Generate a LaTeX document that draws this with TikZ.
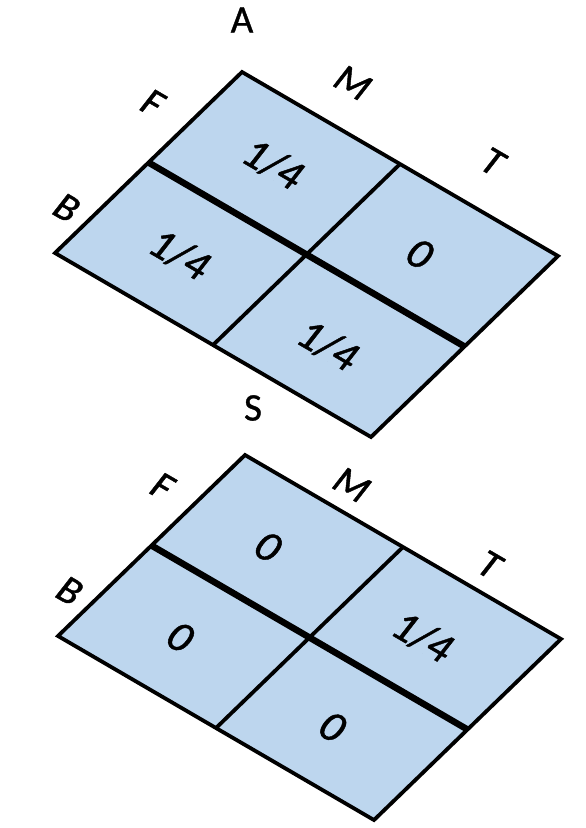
\documentclass[tikz,border=0pt]{standalone}
\usepackage{fontspec}
\setmainfont{Carlito}
\newfontfamily\labfont{Carlito}[FakeBold=1.0]
\definecolor{cellblue}{RGB}{189,214,238}
\tikzset{
  edge/.style={line width=3.8pt, line join=miter, black},
  thickline/.style={line width=6.5pt, black},
  slanted/.style={cm={0.8641,-0.5032,0.6157,0.7880,(0,0)}},
  lab/.style={font=\labfont\fontsize{40}{46}\selectfont, inner sep=0pt, slanted},
  toplab/.style={font=\labfont\fontsize{39}{45}\selectfont, inner sep=0pt},
  val/.style={font=\labfont\fontsize{44}{50}\selectfont, inner sep=0pt, slanted},
  plane/.style={cm={0.8641,-0.5032,0.7187,0.6956,#1}}
}
\begin{document}
\begin{tikzpicture}[x=1pt,y=1pt]
\useasboundingbox (0,0) rectangle (586,-828);
% upper grid
\begin{scope}[plane={(55,-253)}]
  \fill[cellblue] (0,0) rectangle (365.7,260.2);
  \draw[edge] (182.85,0) -- (182.85,260.2);
  \draw[thickline] (0,130.1) -- (365.7,130.1);
  \draw[edge] (0,0) rectangle (365.7,260.2);
  \coordinate (pm1) at (88.4,308.4);
  \coordinate (pt1) at (248.5,310.6);
  \coordinate (pf1) at (-41.1,185.8);
  \coordinate (pb1) at (-24.9,46.7);
  \coordinate (c11) at (92,194);
  \coordinate (c12) at (265,190);
  \coordinate (c21) at (92,64);
  \coordinate (c22) at (267,60);
\end{scope}
\node[toplab] (A) at (242,-20) {A};
\node[lab] (m1) at (pm1) {M};
\node[lab] (t1) at (pt1) {T};
\node[lab] (f1) at (pf1) {F};
\node[lab] (b1) at (pb1) {B};
\node[val] (v11) at (c11) {1/4};
\node[val] (v12) at (c12) {0};
\node[val] (v21) at (c21) {1/4};
\node[val] (v22) at (c22) {1/4};
% lower grid
\begin{scope}[plane={(58,-636)}]
  \fill[cellblue] (0,0) rectangle (365.7,260.2);
  \draw[edge] (182.85,0) -- (182.85,260.2);
  \draw[thickline] (0,130.1) -- (365.7,130.1);
  \draw[edge] (0,0) rectangle (365.7,260.2);
  \coordinate (pm2) at (99.7,289.2);
  \coordinate (pt2) at (259.1,289.5);
  \coordinate (pf2) at (-36,189);
  \coordinate (pb2) at (-24.9,46.7);
  \coordinate (d11) at (86,190);
  \coordinate (d12) at (265,190);
  \coordinate (d21) at (90,63);
  \coordinate (d22) at (267,62);
\end{scope}
\node[toplab] (S) at (253,-408) {S};
\node[lab] (m2) at (pm2) {M};
\node[lab] (t2) at (pt2) {T};
\node[lab] (f2) at (pf2) {F};
\node[lab] (b2) at (pb2) {B};
\node[val] (w11) at (d11) {0};
\node[val] (w12) at (d12) {1/4};
\node[val] (w21) at (d21) {0};
\node[val] (w22) at (d22) {0};
\end{tikzpicture}
\end{document}
